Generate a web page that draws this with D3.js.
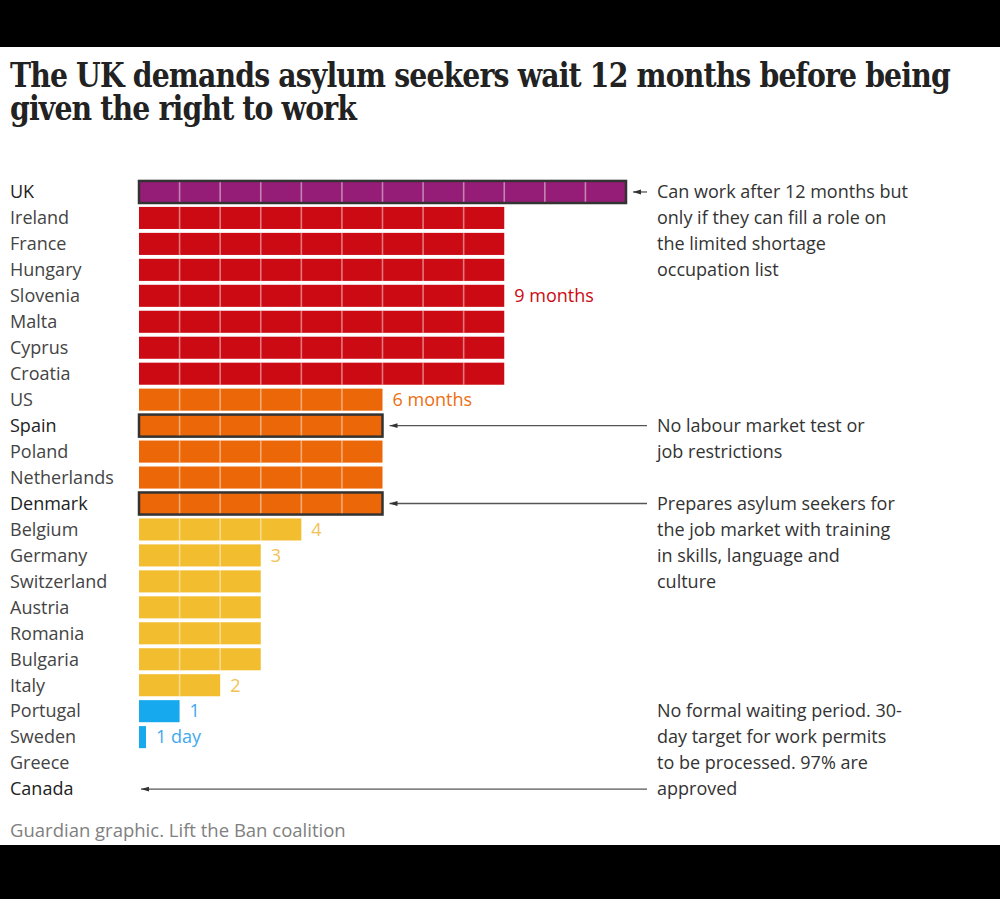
<!DOCTYPE html>
<html><head><meta charset="utf-8">
<script src="https://cdn.jsdelivr.net/npm/d3@7"></script>
<style>
html,body{margin:0;padding:0;background:#000;}
svg{display:block;}
</style></head>
<body>
<script>
// ---- data ----
const countries = ["UK","Ireland","France","Hungary","Slovenia","Malta","Cyprus","Croatia","US","Spain","Poland","Netherlands","Denmark","Belgium","Germany","Switzerland","Austria","Romania","Bulgaria","Italy","Portugal","Sweden","Greece","Canada"];
const months = [12,9,9,9,9,9,9,9,6,6,6,6,6,4,3,3,3,3,3,2,1,1/30,0,0];
const highlighted = ["UK","Spain","Denmark"];
const valueLabels = [
  {country:"Slovenia", text:"9 months"},
  {country:"US", text:"6 months"},
  {country:"Belgium", text:"4"},
  {country:"Germany", text:"3"},
  {country:"Italy", text:"2"},
  {country:"Portugal", text:"1"},
  {country:"Sweden", text:"1 day"}
];
const annotations = [
  {country:"UK", lines:["Can work after 12 months but","only if they can fill a role on","the limited shortage","occupation list"], align:"top"},
  {country:"Spain", lines:["No labour market test or","job restrictions"], align:"top"},
  {country:"Denmark", lines:["Prepares asylum seekers for","the job market with training","in skills, language and","culture"], align:"top"},
  {country:"Canada", lines:["No formal waiting period. 30-","day target for work permits","to be processed. 97% are","approved"], align:"bottom"}
];
const titleLines = ["The UK demands asylum seekers wait 12 months before being","given the right to work"];
const source = "Guardian graphic. Lift the Ban coalition";

// ---- drawing ----
const W = 1000, H = 899;
const svg = d3.select("body").append("svg").attr("width", W).attr("height", H);
svg.append("rect").attr("width", W).attr("height", H).attr("fill", "#000");
svg.append("rect").attr("x",0).attr("y",47).attr("width",W).attr("height",798).attr("fill","#fff");

const FONT = "'Open Sans', 'Noto Sans', sans-serif";
const FS = 18;

// title
const title = svg.append("g");
titleLines.forEach((t,i)=>{
  title.append("text").attr("x",10).attr("y",87 + i*33)
    .attr("font-family","'DejaVu Serif', 'Liberation Serif', serif")
    .attr("font-weight","bold").attr("font-size",33).attr("fill","#222")
    .attr("letter-spacing", -1)
    .text(t);
});
const t0 = title.select("text").node();
const sx = 940 / t0.getComputedTextLength();
title.selectAll("text").attr("transform", `translate(${10*(1-sx)},0) scale(${sx},1)`);

const x = d3.scaleLinear().domain([0,12]).range([139,626]);
const step = 25.96;
const y = d3.scaleBand().domain(countries).range([179, 179 + countries.length*step]).paddingInner(0.15).paddingOuter(0.075);

const color = d3.scaleThreshold().domain([1.5, 5, 7.5, 10.5])
  .range(["#17a9ee","#f2bd2f","#ec6707","#cc0a14","#951c77"]);
const labelColor = d3.scaleThreshold().domain([1.5, 5, 7.5, 10.5])
  .range(["#3fa9ee","#f2c255","#ec6f12","#cc0a14","#951c77"]);

const data = countries.map((c,i)=>({country:c, value:months[i]}));
const minW = 7;

// row labels
svg.append("g").selectAll("text").data(data).join("text")
  .attr("x",10).attr("y",d=>y(d.country)+y.bandwidth()/2)
  .attr("dy","0.35em")
  .attr("font-family",FONT).attr("font-size",FS)
  .attr("fill", d=> (highlighted.includes(d.country)||d.country==="Canada") ? "#222" : "#444")
  .text(d=>d.country);

// bars
const bars = svg.append("g");
const drawn = data.filter(d=>d.value>0);
bars.selectAll("rect.bar").data(drawn).join("rect").attr("class","bar")
  .attr("x",x(0)).attr("y",d=>y(d.country))
  .attr("width",d=>Math.max(x(d.value)-x(0), minW))
  .attr("height",y.bandwidth())
  .attr("fill",d=>color(d.value));

const segs = [];
drawn.forEach(d=>{ for(let m=1;m<d.value;m++) segs.push({country:d.country, m}); });
bars.selectAll("line.seg").data(segs).join("line").attr("class","seg")
  .attr("x1",d=>x(d.m)).attr("x2",d=>x(d.m))
  .attr("y1",d=>y(d.country)).attr("y2",d=>y(d.country)+y.bandwidth())
  .attr("stroke","#fff").attr("stroke-opacity",0.45).attr("stroke-width",1.6);

bars.selectAll("rect.hl").data(drawn.filter(d=>highlighted.includes(d.country))).join("rect").attr("class","hl")
  .attr("x",x(0)).attr("y",d=>y(d.country))
  .attr("width",d=>x(d.value)-x(0)).attr("height",y.bandwidth())
  .attr("fill","none").attr("stroke","#333").attr("stroke-width",2.5);

// value labels
const valOf = c => months[countries.indexOf(c)];
svg.append("g").selectAll("text").data(valueLabels).join("text")
  .attr("x",d=>Math.max(x(valOf(d.country)), x(0)+minW)+10)
  .attr("y",d=>y(d.country)+y.bandwidth()/2).attr("dy","0.35em")
  .attr("font-family",FONT).attr("font-size",FS)
  .attr("fill",d=>labelColor(valOf(d.country)))
  .text(d=>d.text);

// annotations
const annX = 657, lineH = 26;
const defs = svg.append("defs");
defs.append("marker").attr("id","arr").attr("viewBox","0 0 10 10").attr("refX",0).attr("refY",5)
  .attr("markerUnits","userSpaceOnUse")
  .attr("markerWidth",8).attr("markerHeight",8).attr("orient","auto")
  .append("path").attr("d","M0,5 L10,2 L10,8 Z").attr("fill","#333");

annotations.forEach(a=>{
  const cy = y(a.country)+y.bandwidth()/2;
  const v = valOf(a.country);
  const startX = v>0 ? x(v)+7 : x(0)+2;
  const endX = a.country==="UK" ? startX+14 : annX-10;
  svg.append("line").attr("x1",startX).attr("x2",endX).attr("y1",cy).attr("y2",cy)
    .attr("stroke","#555").attr("stroke-width",1.3).attr("marker-start","url(#arr)");
  const n = a.lines.length;
  const firstY = a.align==="top" ? cy : cy - (n-1)*lineH;
  const g = svg.append("text").attr("font-family",FONT).attr("font-size",FS).attr("fill","#333");
  a.lines.forEach((l,i)=>{
    g.append("tspan").attr("x",annX).attr("y",firstY + i*lineH).attr("dy","0.35em").text(l);
  });
});

// source
svg.append("text").attr("x",10).attr("y",831).attr("dy","0.35em")
  .attr("font-family",FONT).attr("font-size",18.5).attr("fill","#808080").text(source);
</script>
</body></html>
